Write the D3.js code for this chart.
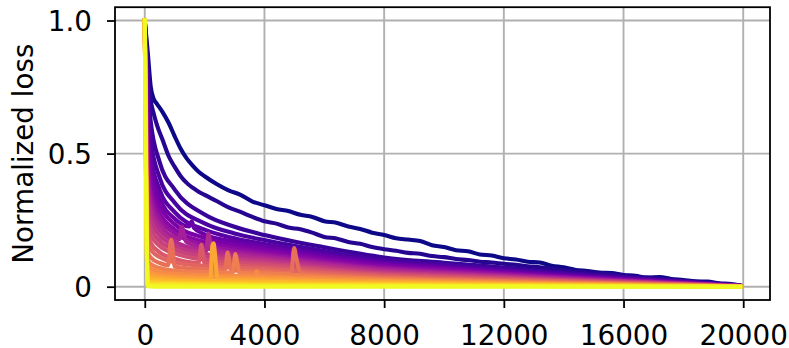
<!DOCTYPE html>
<html><head><meta charset="utf-8">
<script src="https://cdn.jsdelivr.net/npm/d3@7"></script>
<style>html,body{margin:0;padding:0;background:#fff;} svg{display:block;}</style>
</head><body>
<svg id="chart" width="789" height="348"></svg>
<script>
// ---------------- data ----------------
const xTicks = [0, 4000, 8000, 12000, 16000, 20000];
const xTickLabels = ["0", "4000", "8000", "12000", "16000", "20000"];
const yTicks = [0, 0.5, 1.0];
const yTickLabels = ["0", "0.5", "1.0"];
const yLabel = "Normalized loss";

// two slowest runs, read in detail
const topSteps = [0,100,200,300,400,600,800,1000,1200,1400,1600,1800,2000,2400,2800,3200,3600,4000,4400,4800,5200,5600,6000,6400,6800,7200,7600,8000,8400,8800,9200,9600,10000,10400,10800,11200,11600,12000,12400,12800,13200,13600,14000,14400,14800,15200,15600,16000,16400,16800,17200,17600,18000,18400,18800,19200,19600,19900];
const lossRun00 = [1.0,0.88,0.75,0.705,0.688,0.655,0.615,0.565,0.518,0.482,0.455,0.432,0.415,0.386,0.362,0.345,0.32,0.306,0.292,0.284,0.27,0.262,0.246,0.24,0.226,0.217,0.203,0.194,0.182,0.177,0.172,0.156,0.149,0.137,0.133,0.121,0.117,0.107,0.102,0.094,0.091,0.079,0.073,0.063,0.059,0.053,0.051,0.044,0.041,0.034,0.036,0.029,0.025,0.02,0.019,0.013,0.01,0.004];
const lossRun01 = [1.0,0.84,0.70,0.65,0.61,0.55,0.49,0.45,0.415,0.39,0.372,0.357,0.345,0.322,0.298,0.281,0.262,0.246,0.237,0.222,0.216,0.203,0.187,0.181,0.168,0.161,0.149,0.141,0.135,0.127,0.124,0.115,0.111,0.104,0.1,0.094,0.091,0.086,0.082,0.077,0.073,0.067,0.063,0.058,0.055,0.05,0.047,0.042,0.038,0.034,0.031,0.026,0.022,0.018,0.015,0.011,0.007,0.003];

// remaining runs, sampled at shared steps
const steps = [0,100,200,500,1000,2000,3000,4000,6000,8000,10000,12000,14000,16000,18000,19900];
const familyLoss = [
  [1,.78,.62,.467,.365,.271,.225,.194,.148,.11,.09,.072,.053,.036,.02,.003],
  [1,.72,.55,.409,.315,.238,.2,.175,.134,.1,.082,.065,.048,.033,.018,.003],
  [1,.66,.49,.364,.28,.214,.182,.16,.123,.092,.075,.06,.044,.03,.017,.003],
  [1,.6,.45,.333,.255,.197,.169,.15,.115,.086,.071,.056,.041,.028,.015,.003],
  [1,.55,.41,.305,.235,.183,.157,.14,.107,.08,.066,.052,.038,.026,.014,.002],
  [1,.5,.37,.277,.215,.168,.145,.13,.1,.075,.062,.049,.036,.025,.013,.002],
  [1,.45,.34,.256,.2,.157,.136,.122,.093,.07,.057,.046,.034,.023,.013,.002],
  [1,.4,.31,.235,.185,.146,.127,.114,.087,.065,.053,.042,.031,.021,.012,.002],
  [1,.36,.28,.214,.17,.135,.118,.106,.081,.06,.049,.039,.029,.02,.011,.002],
  [1,.32,.25,.193,.155,.124,.108,.098,.074,.055,.045,.036,.026,.018,.01,.002],
  [1,.28,.22,.172,.14,.113,.099,.09,.068,.05,.041,.033,.024,.017,.009,.001],
  [1,.24,.195,.153,.125,.101,.09,.082,.062,.046,.038,.03,.022,.015,.008,.001],
  [1,.2,.165,.129,.105,.088,.08,.074,.056,.042,.034,.027,.02,.014,.008,.001],
  [1,.17,.14,.111,.092,.078,.071,.066,.05,.037,.03,.024,.018,.012,.007,.001],
  [1,.13,.11,.089,.075,.066,.061,.058,.044,.033,.027,.021,.016,.011,.006,.001],
  [1,.1,.085,.07,.06,.055,.052,.05,.038,.029,.024,.019,.014,.01,.005,.001],
  [1,.08,.068,.056,.048,.044,.041,.04,.032,.025,.02,.016,.012,.008,.004,.001],
  [1,.06,.052,.044,.038,.035,.033,.032,.026,.021,.017,.014,.01,.007,.004,.001],
  [1,.045,.04,.034,.03,.027,.026,.025,.021,.017,.014,.011,.008,.006,.003,0],
  [1,.032,.028,.025,.022,.02,.019,.018,.015,.013,.011,.008,.006,.004,.002,0],
  [1,.02,.018,.016,.015,.013,.012,.012,.01,.009,.007,.006,.004,.003,.002,0],
  [1,.012,.012,.012,.012,.009,.008,.007,.006,.006,.005,.004,.003,.002,.001,0],
  [1,.006,.006,.006,.006,.004,.003,.003,.003,.003,.002,.002,.001,.001,.001,0],
  [1,.002,.001,0,0,0,0,0,0,0,0,0,0,0,0,0]
];

// loss spikes: run index and [step, loss] points
const spikeRuns = [16, 5, 9, 14, 10, 20, 16, 17, 18, 16];
const spikePoints = [
  [[780,.081],[880,.176],[930,.145],[975,.09]],
  [[1480,.226],[1570,.246],[1640,.222]],
  [[1150,.178],[1240,.226],[1300,.2],[1380,.17]],
  [[1800,.09],[1890,.157],[1940,.13],[1985,.092]],
  [[2050,.134],[2130,.2],[2180,.17],[2250,.132]],
  [[2190,.027],[2260,.155],[2300,.163],[2350,.12],[2420,.035],[2500,.026]],
  [[2680,.063],[2770,.128],[2820,.1],[2880,.062]],
  [[2940,.053],[3030,.123],[3090,.09],[3170,.052]],
  [[3650,.041],[3740,.058],[3800,.045],[3860,.041]],
  [[4900,.052],[4990,.145],[5060,.11],[5150,.065],[5250,.05]]
];

// ---------------- build ----------------
let runs = [];
runs.push(topSteps.map((s, k) => [s, lossRun00[k]]));
runs.push(topSteps.map((s, k) => [s, lossRun01[k]]));
familyLoss.forEach(row => runs.push(steps.map((s, k) => [s, row[k]])));
spikeRuns.forEach((ri, j) => {
  const pts = spikePoints[j];
  const x0 = pts[0][0], x1 = pts[pts.length - 1][0];
  const kept = runs[ri].filter(p => p[0] < x0 || p[0] > x1);
  runs[ri] = kept.concat(pts).sort((a, b) => a[0] - b[0]);
});

const L = 115, R = 770, T = 7.2, B = 300;
const svg = d3.select("#chart");
const x = d3.scaleLinear().domain([-995, 20895]).range([L, R]);
const y = d3.scaleLinear().domain([-0.05, 1.05]).range([B, T]);
const FONT = "DejaVu Sans, sans-serif";
const FS = 27.8;

// grid
const grid = svg.append("g");
grid.selectAll("line.vx").data(xTicks).enter().append("line")
  .attr("x1", d => x(d)).attr("x2", d => x(d)).attr("y1", T).attr("y2", B)
  .attr("stroke", "#b0b0b0").attr("stroke-width", 1.9);
grid.selectAll("line.hy").data(yTicks).enter().append("line")
  .attr("x1", L).attr("x2", R).attr("y1", d => y(d)).attr("y2", d => y(d))
  .attr("stroke", "#b0b0b0").attr("stroke-width", 1.9);

// lines
const n = runs.length;
const line = d3.line().x(d => x(d[0])).y(d => y(d[1])).curve(d3.curveMonotoneX);
const lg = svg.append("g");
runs.forEach((r, i) => {
  lg.append("path").attr("d", line(r)).attr("fill", "none")
    .attr("stroke", d3.interpolatePlasma(i / (n - 1)))
    .attr("stroke-width", 4.1)
    .attr("stroke-linejoin", "round").attr("stroke-linecap", "square");
});

// axes
const xAxis = svg.append("g").attr("transform", `translate(0,${B})`)
  .call(d3.axisBottom(x).tickValues(xTicks).tickFormat((d, i) => xTickLabels[i]).tickSize(8).tickSizeOuter(0).tickPadding(17));
const yAxis = svg.append("g").attr("transform", `translate(${L},0)`)
  .call(d3.axisLeft(y).tickValues(yTicks).tickFormat((d, i) => yTickLabels[i]).tickSize(8).tickSizeOuter(0).tickPadding(15));
[xAxis, yAxis].forEach(g => {
  g.select(".domain").remove();
  g.selectAll(".tick line").attr("stroke", "#000").attr("stroke-width", 1.8);
  g.selectAll(".tick text").attr("fill", "#000").style("font-family", FONT).style("font-size", FS + "px");
});
yAxis.selectAll(".tick text").attr("dy", "0.37em");

// spines
svg.append("rect").attr("x", L).attr("y", T).attr("width", R - L).attr("height", B - T)
  .attr("fill", "none").attr("stroke", "#000").attr("stroke-width", 1.8);

// y label
svg.append("text").attr("transform", `translate(33,${(T + B) / 2}) rotate(-90)`)
  .attr("text-anchor", "middle").style("font-family", FONT).style("font-size", FS + "px")
  .attr("fill", "#000").text(yLabel);
</script>
</body></html>
